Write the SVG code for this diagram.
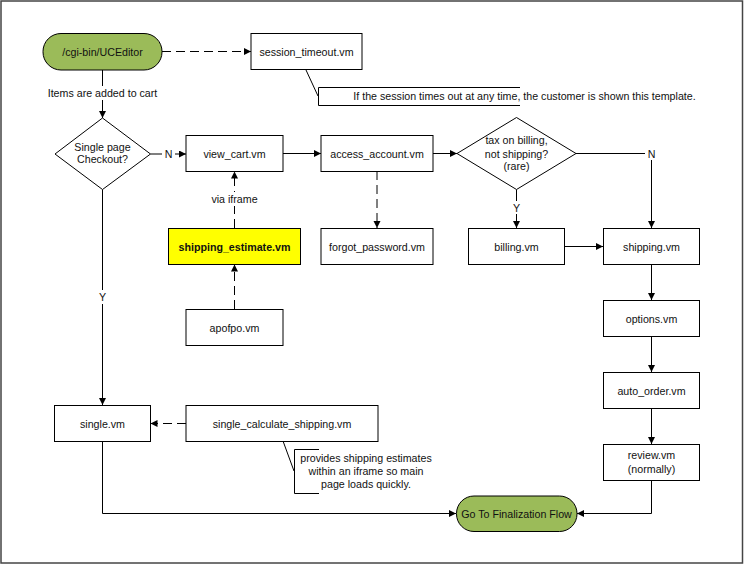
<svg xmlns="http://www.w3.org/2000/svg" width="745" height="565" viewBox="0 0 745 565">
<style>
text{font-family:"Liberation Sans",Arial,sans-serif;font-size:10.67px;fill:#111;text-anchor:middle}
.box{fill:#fff;stroke:#000;stroke-width:1}
.term{fill:#9BBB59;stroke:#000;stroke-width:1}
.c{fill:none;stroke:#000;stroke-width:1}
.d{stroke-dasharray:9,5}
.lbl{fill:#fff;stroke:none}
</style>
<defs>
<marker id="ah" markerUnits="userSpaceOnUse" markerWidth="8" markerHeight="8" refX="7" refY="3.5" orient="auto">
<path d="M0,0 L7,3.5 L0,7 z" fill="#000"/>
</marker>
</defs>
<rect x="1" y="1" width="741.5" height="562" fill="#fff" stroke="#444" stroke-width="1.5"/>

<g id="connectors">
<path class="c d" d="M162,51.5 H251" marker-end="url(#ah)"/>
<path class="c" d="M306,70 L318,96"/>
<path class="c" d="M520,87.5 H318.5 V105.5 H520"/>
<path class="c" d="M102.5,70 V118" marker-end="url(#ah)"/>
<rect class="lbl" x="46" y="86" width="113" height="14"/>
<text x="102.5" y="97">Items are added to cart</text>
<path class="c" d="M150.5,154 H186" marker-end="url(#ah)"/>
<rect class="lbl" x="162" y="147" width="13" height="14"/>
<text x="168.5" y="158">N</text>
<path class="c" d="M283,153.5 H321" marker-end="url(#ah)"/>
<path class="c" d="M433,153.5 H457" marker-end="url(#ah)"/>
<path class="c" d="M576,153.5 H651.5 V228" marker-end="url(#ah)"/>
<rect class="lbl" x="645" y="147" width="12" height="13"/>
<text x="651.5" y="157.5">N</text>
<path class="c" d="M516.5,189.5 V228" marker-end="url(#ah)"/>
<rect class="lbl" x="510" y="201" width="13" height="13"/>
<text x="516.5" y="212">Y</text>
<path class="c" d="M564,246.5 H603" marker-end="url(#ah)"/>
<path class="c" d="M651.5,264.5 V300" marker-end="url(#ah)"/>
<path class="c" d="M651.5,336 V372" marker-end="url(#ah)"/>
<path class="c" d="M651.5,408 V444" marker-end="url(#ah)"/>
<path class="c" d="M651.5,480 V513.5 H577" marker-end="url(#ah)"/>
<path class="c" d="M102.5,189.5 V405" marker-end="url(#ah)"/>
<rect class="lbl" x="96" y="290" width="13" height="14"/>
<text x="102.5" y="301">Y</text>
<path class="c" d="M102.5,441 V513.5 H456" marker-end="url(#ah)"/>
<path class="c d" d="M186,423.5 H150.5" marker-end="url(#ah)"/>
<path class="c" d="M283,441 L294,471"/>
<path class="c" d="M319,449.5 H294.5 V493.5 H319"/>
<path class="c d" d="M234.5,228 V171.5" marker-end="url(#ah)"/>
<rect class="lbl" x="208" y="192" width="53" height="14"/>
<text x="234.5" y="203">via iframe</text>
<path class="c d" d="M234.5,309 V264.5" marker-end="url(#ah)"/>
<path class="c d" d="M377,171 V228" marker-end="url(#ah)" stroke="#555"/>
</g>

<g id="start"><rect class="term" x="43" y="33.5" width="119" height="36.5" rx="18"/><text x="102.5" y="55.5">/cgi-bin/UCEditor</text></g>
<g id="session_timeout"><rect class="box" x="251" y="33.5" width="111" height="36"/><text x="306.5" y="55.5">session_timeout.vm</text></g>
<g id="note_session"><text x="524.5" y="100">If the session times out at any time, the customer is shown this template.</text></g>
<g id="single_page"><polygon class="box" points="102.5,118 150.5,154 102.5,189.5 55,154"/><text x="102.5" y="150.5">Single page</text><text x="102.5" y="163">Checkout?</text></g>
<g id="view_cart"><rect class="box" x="186" y="135.5" width="97" height="36"/><text x="234.5" y="157.5">view_cart.vm</text></g>
<g id="access_account"><rect class="box" x="321" y="135.5" width="112" height="36"/><text x="377" y="157.5">access_account.vm</text></g>
<g id="tax_decision"><polygon class="box" points="516.5,117.5 576,153.5 516.5,189.5 457,153.5"/><text x="516.5" y="144">tax on billing,</text><text x="516.5" y="157.5">not shipping?</text><text x="516.5" y="170">(rare)</text></g>
<g id="shipping_estimate"><rect x="168.5" y="228.5" width="132" height="36" fill="#FFFF00" stroke="#000"/><text x="234.5" y="250.5" font-weight="bold">shipping_estimate.vm</text></g>
<g id="forgot_password"><rect class="box" x="321" y="228.5" width="112" height="36"/><text x="377" y="250.5">forgot_password.vm</text></g>
<g id="billing"><rect class="box" x="468.5" y="228.5" width="96" height="36"/><text x="516.5" y="250.5">billing.vm</text></g>
<g id="shipping"><rect class="box" x="603.5" y="228.5" width="96" height="36"/><text x="651.5" y="250.5">shipping.vm</text></g>
<g id="apofpo"><rect class="box" x="186" y="309.5" width="97" height="36"/><text x="234.5" y="331.5">apofpo.vm</text></g>
<g id="options"><rect class="box" x="603.5" y="300.5" width="96" height="36"/><text x="651.5" y="322.5">options.vm</text></g>
<g id="auto_order"><rect class="box" x="603.5" y="372.5" width="96" height="36"/><text x="651.5" y="394.5">auto_order.vm</text></g>
<g id="review"><rect class="box" x="603.5" y="444.5" width="96" height="36"/><text x="651.5" y="459">review.vm</text><text x="651.5" y="472.5">(normally)</text></g>
<g id="single"><rect class="box" x="54.5" y="405.5" width="96" height="36"/><text x="102.5" y="427.5">single.vm</text></g>
<g id="single_calculate_shipping"><rect class="box" x="186" y="405.5" width="192" height="36"/><text x="282" y="427.5">single_calculate_shipping.vm</text></g>
<g id="note_single"><text x="366" y="462">provides shipping estimates</text><text x="366" y="475">within an iframe so main</text><text x="366" y="488">page loads quickly.</text></g>
<g id="finalization"><rect class="term" x="456.5" y="496" width="120.5" height="35.5" rx="17.5"/><text x="516.5" y="517.5">Go To Finalization Flow</text></g>
</svg>
